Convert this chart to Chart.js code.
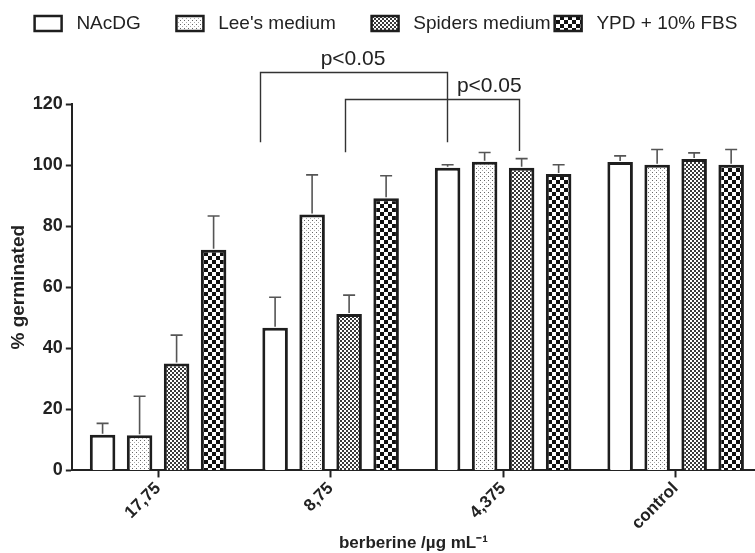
<!DOCTYPE html>
<html>
<head>
<meta charset="utf-8">
<script src="https://cdn.jsdelivr.net/npm/chart.js@4.4.0/dist/chart.umd.min.js"></script>
<style>
  body { margin: 0; background: #fff; }
  #wrap { width: 755px; height: 553px; }
</style>
</head>
<body>
<div id="wrap"><canvas id="germChart" width="755" height="553"></canvas></div>
<script>
// concentrations on the x axis
const groups = ['17,75', '8,75', '4,375', 'control'];
const media = ['NAcDG', "Lee's medium", 'Spiders medium', 'YPD + 10% FBS'];

// % germinated per medium (one value per concentration)
const nacdg = [11.7, 46.7, 99.1, 101];
const lees = [11.5, 83.8, 101.1, 100.1];
const spiders = [35, 51.2, 99.1, 102];
const ypd = [72.3, 89.1, 97.1, 100.1];

// upper error bars (SD)
const nacdgErr = [3.7, 10, 1, 2];
const leesErr = [12.8, 13, 3, 5];
const spidersErr = [9.3, 6.2, 3, 2];
const ypdErr = [11, 7.4, 3, 5];

const yTicks = [0, 20, 40, 60, 80, 100, 120];

document.addEventListener('DOMContentLoaded', function() {
    const ctx = document.getElementById('germChart').getContext('2d');
    const FONT = "'Liberation Sans', Arial, Helvetica, sans-serif";

    function makePattern(size, draw) {
        const c = document.createElement('canvas');
        c.width = size;
        c.height = size;
        const g = c.getContext('2d');
        g.fillStyle = '#fff';
        g.fillRect(0, 0, size, size);
        draw(g);
        return ctx.createPattern(c, 'repeat');
    }

    const leesFill = makePattern(4, g => {
        g.fillStyle = '#666';
        g.fillRect(0, 0, 1, 1);
        g.fillStyle = '#aaa';
        g.fillRect(2, 2, 1, 1);
    });
    const spidersFill = makePattern(4, g => {
        g.fillStyle = '#3a3a3a';
        g.fillRect(0, 0, 2, 2);
        g.fillRect(2, 2, 2, 2);
    });
    const ypdFill = makePattern(8, g => {
        g.fillStyle = '#111';
        g.fillRect(0, 0, 4, 4);
        g.fillRect(4, 4, 4, 4);
    });

    const series = [nacdg, lees, spiders, ypd];
    const errors = [nacdgErr, leesErr, spidersErr, ypdErr];
    const fills = ['#fff', leesFill, spidersFill, ypdFill];

    const datasets = series.map((vals, i) => ({
        label: media[i],
        data: vals.map((v, j) => ({ x: j, y: v })),
        backgroundColor: fills[i],
        borderColor: '#1e1e1e',
        borderWidth: 3,
        borderSkipped: 'bottom',
        categoryPercentage: 0.858,
        barPercentage: 0.69
    }));

    // upper-only error bars
    const errorBars = {
        id: 'errorBars',
        afterDatasetsDraw(chart) {
            const c = chart.ctx;
            const yScale = chart.scales.y;
            c.save();
            c.strokeStyle = '#555';
            c.lineWidth = 1.6;
            chart.data.datasets.forEach((ds, i) => {
                const meta = chart.getDatasetMeta(i);
                meta.data.forEach((bar, j) => {
                    const top = yScale.getPixelForValue(series[i][j] + errors[i][j]);
                    c.beginPath();
                    c.moveTo(bar.x, bar.y - 1);
                    c.lineTo(bar.x, top);
                    c.moveTo(bar.x - 6, top);
                    c.lineTo(bar.x + 6, top);
                    c.stroke();
                });
            });
            c.restore();
        }
    };

    // significance brackets, in axis units
    const brackets = [
        { x1: 0.59, x2: 1.674, top: 130.6, y1: 107.5, y2: 107.5, labelY: 132.8, labelX: 1.13 },
        { x1: 1.083, x2: 2.09, top: 121.8, y1: 104.2, y2: 104.6, labelY: 124, labelX: 1.92 }
    ];
    const bracketPlugin = {
        id: 'brackets',
        afterDraw(chart) {
            const c = chart.ctx;
            const xs = chart.scales.x;
            const ys = chart.scales.y;
            c.save();
            c.strokeStyle = '#333';
            c.lineWidth = 1.4;
            c.fillStyle = '#222';
            c.font = '21px ' + FONT;
            c.textAlign = 'center';
            c.textBaseline = 'alphabetic';
            brackets.forEach(b => {
                const xa = Math.round(xs.getPixelForValue(b.x1)) + 0.5;
                const xb = Math.round(xs.getPixelForValue(b.x2)) + 0.5;
                const yt = Math.round(ys.getPixelForValue(b.top)) + 0.5;
                c.beginPath();
                c.moveTo(xa, ys.getPixelForValue(b.y1));
                c.lineTo(xa, yt);
                c.lineTo(xb, yt);
                c.lineTo(xb, ys.getPixelForValue(b.y2));
                c.stroke();
                c.fillText('p<0.05', xs.getPixelForValue(b.labelX), ys.getPixelForValue(b.labelY));
            });
            c.restore();
        }
    };

    // leave room between the legend and the plot for the brackets,
    // and nudge the legend row a little to the right
    const legendGap = {
        id: 'legendGap',
        beforeInit(chart) {
            const fit = chart.legend.fit;
            chart.legend.fit = function() {
                fit.bind(chart.legend)();
                this.height += 61;
            };
        },
        afterLayout(chart) {
            chart.legend.left += 5;
            chart.legend.right += 5;
        }
    };

    new Chart(ctx, {
        type: 'bar',
        data: { datasets: datasets },
        options: {
            responsive: false,
            animation: false,
            devicePixelRatio: 1,
            layout: { padding: { top: 10, left: 7, right: 0, bottom: -1 } },
            plugins: {
                legend: {
                    position: 'top',
                    align: 'center',
                    labels: {
                        boxWidth: 27,
                        boxHeight: 15,
                        padding: 4,
                        color: '#222',
                        font: { family: FONT, size: 19 },
                        generateLabels(chart) {
                            const trail = ['      ', '      ', '', ''];
                            return Chart.defaults.plugins.legend.labels.generateLabels(chart)
                                .map((l, i) => Object.assign(l, {
                                    lineWidth: 2.5,
                                    text: ' ' + l.text + trail[i]
                                }));
                        }
                    }
                },
                tooltip: { enabled: false }
            },
            scales: {
                x: {
                    type: 'linear',
                    min: -0.5,
                    max: 3.46,
                    offset: false,
                    afterBuildTicks: axis => { axis.ticks = groups.map((g, i) => ({ value: i })); },
                    ticks: {
                        callback: v => groups[v],
                        autoSkip: false,
                        maxRotation: 45,
                        minRotation: 45,
                        padding: 1,
                        color: '#222',
                        font: { family: FONT, size: 17, weight: 'bold' }
                    },
                    grid: { display: true, offset: false, drawOnChartArea: false, drawTicks: true, tickLength: 7, tickWidth: 2, tickColor: '#222' },
                    border: { display: true, color: '#222', width: 2 },
                    title: {
                        display: true,
                        text: 'berberine /µg mL⁻¹',
                        color: '#222',
                        padding: { top: -1, bottom: 0 },
                        font: { family: FONT, size: 17, weight: 'bold' }
                    }
                },
                y: {
                    min: 0,
                    max: 120,
                    afterBuildTicks: axis => { axis.ticks = yTicks.map(v => ({ value: v })); },
                    ticks: {
                        padding: 3,
                        color: '#222',
                        font: { family: FONT, size: 18, weight: 'bold' }
                    },
                    grid: { display: true, drawOnChartArea: false, drawTicks: true, tickLength: 6, tickWidth: 2, tickColor: '#222' },
                    border: { display: true, color: '#222', width: 2 },
                    title: {
                        display: true,
                        text: '% germinated',
                        color: '#222',
                        padding: { top: 0, bottom: 0 },
                        font: { family: FONT, size: 19, weight: 'bold' }
                    }
                }
            }
        },
        plugins: [errorBars, bracketPlugin, legendGap]
    });
});
</script>
</body>
</html>
